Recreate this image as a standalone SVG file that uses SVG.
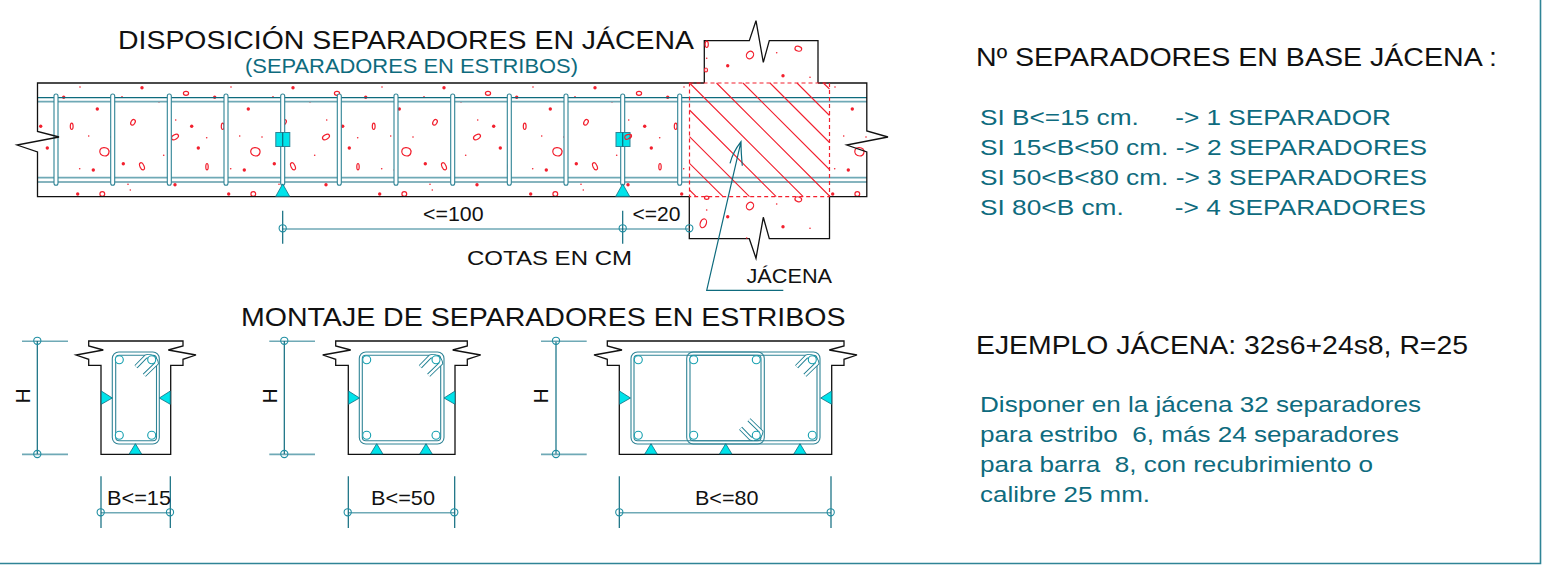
<svg xmlns="http://www.w3.org/2000/svg" xmlns:xlink="http://www.w3.org/1999/xlink" width="1558" height="568" viewBox="0 0 1558 568">
<style>
text{font-family:"Liberation Sans",Arial,sans-serif;white-space:pre}
.k{fill:#111}.t{fill:#0e6b7e}
.s24{font-size:25px}.s20{font-size:21px}.s22{font-size:22px}.s21{font-size:21.3px}
.o{fill:none;stroke:#111;stroke-width:1.3;stroke-linejoin:miter}
.d{fill:none;stroke:#0e6b7e;stroke-width:1.2}
.l{fill:none;stroke:#6fa9b6;stroke-width:1.6}
.st{fill:#fff;stroke:#2f8496;stroke-width:1.1}
.stn{fill:none;stroke:#2f8496;stroke-width:1.1}
.c{fill:none;stroke:#1f8ea2;stroke-width:1.1}
.b{fill:#fff;stroke:#16a0b0;stroke-width:1.1}
.sp{fill:#00e3ea;stroke:#0e6b7e;stroke-width:.8}
.r{fill:none;stroke:#f2202e;stroke-width:1.2}
.rd{fill:#f2202e}
.h{fill:none;stroke:#f2202e;stroke-width:1.1}
.dash{fill:none;stroke:#f2202e;stroke-width:1.2;stroke-dasharray:4 3}
</style>
<defs>
<clipPath id="beamclip"><rect x="37.5" y="83" width="652" height="113.7"/><rect x="829.5" y="83" width="37.5" height="113.7"/></clipPath>
<g id="tile">
<g class="r">
<ellipse cx="186" cy="93.3" rx="2.6" ry="2"/><ellipse cx="133" cy="122.3" rx="2" ry="3" transform="rotate(30 133 122.3)"/>
<ellipse cx="71.7" cy="126.3" rx="1.4" ry="3.2"/><ellipse cx="175" cy="137" rx="3.8" ry="2.2" transform="rotate(-30 175 137)"/>
<path d="M100 150c1-3 6-3 8-1s1 7-3 7-6-3-5-6z"/><ellipse cx="142" cy="166.3" rx="2" ry="3.8" transform="rotate(-25 142 166.3)"/>
<ellipse cx="102.3" cy="194" rx="2.4" ry="2.4"/><ellipse cx="56" cy="166.7" rx="1.2" ry="3.2"/>
</g>
<g class="rd">
<circle cx="63.7" cy="97.3" r="1.7"/><circle cx="142" cy="87.7" r="1.7"/><circle cx="97.3" cy="109" r="1.7"/><circle cx="40.7" cy="126.3" r="1.7"/><circle cx="47.3" cy="148" r="1.7"/><circle cx="123.3" cy="163.7" r="1.7"/><circle cx="93.3" cy="170" r="1.7"/><circle cx="77.7" cy="194" r="1.7"/><circle cx="175" cy="184.7" r="1.7"/>
<circle cx="80" cy="87" r=".8"/><circle cx="122" cy="96.7" r=".8"/><circle cx="159" cy="102" r=".8"/><circle cx="175.7" cy="120" r=".8"/><circle cx="88.7" cy="136" r=".8"/><circle cx="55.7" cy="137.7" r=".8"/><circle cx="163.7" cy="155.3" r=".8"/><circle cx="79.7" cy="168.7" r=".8"/><circle cx="128" cy="184.3" r=".8"/><circle cx="130.3" cy="190" r=".8"/><circle cx="111" cy="137" r=".8"/>
</g>
</g>
<g id="hook">
<path d="M-15.7 7L-6-3A8 8 0 0 1 5 3.6L-7.4 15.6" fill="none" stroke="#1f7f92" stroke-width="4.2"/>
<path d="M-15.7 7L-6-3A8 8 0 0 1 5 3.6L-7.4 15.6" fill="none" stroke="#fff" stroke-width="2.4"/>
</g>
<rect id="stir" x="-2" y="94" width="4" height="91.3" rx="2" class="st"/>
<polygon id="tri" points="0,-10.3 6.2,0 -6.2,0" class="sp"/>
<polygon id="triB" points="0,-12.5 7,0 -7,0" class="sp"/>
<polygon id="triL" points="0,0 11,7 0,13.3" class="sp"/>
<polygon id="triR" points="0,0 -11,7 0,13.3" class="sp"/>
<circle id="bar" r="4" class="b"/>
<circle id="dc" r="3.6" class="c"/>
</defs>

<g id="frame"><path d="M1540.5 0V563.5H0" fill="none" stroke="#2f8496" stroke-width="1.6"/></g>

<g id="beam">
<g clip-path="url(#beamclip)">
<use xlink:href="#tile"/><use xlink:href="#tile" x="151"/><use xlink:href="#tile" x="302"/><use xlink:href="#tile" x="453"/><use xlink:href="#tile" x="604"/><use xlink:href="#tile" x="755"/>
</g>
<path class="d" d="M37.5 97.7H867M37.5 182H867"/>
<path class="l" d="M37.5 101.6H867M37.5 177.6H867"/>
<use xlink:href="#stir" x="56"/><use xlink:href="#stir" x="112.7"/><use xlink:href="#stir" x="169.3"/><use xlink:href="#stir" x="226"/><use xlink:href="#stir" x="282.7"/><use xlink:href="#stir" x="339.3"/><use xlink:href="#stir" x="396"/><use xlink:href="#stir" x="452.7"/><use xlink:href="#stir" x="509.3"/><use xlink:href="#stir" x="566"/><use xlink:href="#stir" x="622.7"/><use xlink:href="#stir" x="679.7"/>
<path class="o" d="M704.3 83H37.5V131.5L59 137 17 145 37.5 152V196.7H689.3M829.5 196.7H866.8V152L846.7 145 888 137 866.8 131V83H818"/>
</g>

<g id="column">
<path class="o" d="M704.3 83V40.7H749.3L756 20.7 763.3 62.3 769.3 40.7H818V83M689.3 196.7V238.7H749.3L756 258.3 763.3 217.3 769.3 238.7H829.5V196.7"/>
<g class="r">
<ellipse cx="750" cy="55" rx="3.4" ry="4" transform="rotate(35 750 55)"/><ellipse cx="798.3" cy="48.7" rx="3.4" ry="2.4" transform="rotate(15 798.3 48.7)"/><ellipse cx="706.7" cy="44.3" rx="1.6" ry="3.2"/><ellipse cx="706" cy="70" rx="1.5" ry="2"/>
<ellipse cx="750" cy="206" rx="3.4" ry="4" transform="rotate(35 750 206)"/><ellipse cx="798.3" cy="199.3" rx="3.4" ry="2.4" transform="rotate(15 798.3 199.3)"/><ellipse cx="706.7" cy="197.8" rx="2.2" ry="1.6"/><ellipse cx="703.3" cy="223.3" rx="3" ry="4.6" transform="rotate(20 703.3 223.3)"/>
</g>
<g class="rd">
<circle cx="727.7" cy="65.7" r="1.7"/><circle cx="783" cy="75.7" r="1.7"/><circle cx="776.7" cy="52.7" r=".8"/><circle cx="810" cy="77.3" r=".8"/><circle cx="706.7" cy="58.3" r=".8"/>
<circle cx="727.7" cy="216.7" r="1.7"/><circle cx="783" cy="226.7" r="1.7"/><circle cx="776.7" cy="204" r=".8"/><circle cx="810" cy="228.3" r=".8"/><circle cx="706.7" cy="210" r=".8"/><circle cx="746.7" cy="238" r=".8"/>
</g>
<rect class="dash" x="689.5" y="83" width="140" height="113.7"/>
<path class="h" d="M689.5 83L803.2 196.7M716.5 83L829.5 196M743 83L829.5 169.5M770 83L829.5 142.5M797 83L829.5 115.5M823.3 83L829.5 89M689.5 110L776.2 196.7M689.5 136.7L749.5 196.7M689.5 163.3L723 196.7M689.5 190L696.2 196.7"/>
</g>

<g id="spacers">
<rect x="275.8" y="132.5" width="14" height="14" fill="#00e3ea" stroke="#2f8496" stroke-width="1"/>
<rect x="616" y="132.5" width="14" height="14" fill="#00e3ea" stroke="#2f8496" stroke-width="1"/>
<path class="d" d="M282.7 132.5V146.5M622.7 132.5V146.5"/>
<path class="r" d="M625 136c2-2 5-2 6-1s-1 3-3 4-4 0-3-3z"/>
<use xlink:href="#triB" x="282.7" y="196.4"/><use xlink:href="#triB" x="622.7" y="196.4"/>
</g>

<g id="section-15">
<path class="o" d="M101 365.3H88.7V359.3L76 355 103.3 350 88.7 346V341H183V346L168.3 350 196 355 183 359.3V365.3H170.7V454.3H101Z"/>
<rect class="stn" x="112.3" y="352" width="47" height="92" rx="6.5"/>
<rect class="stn" x="115.7" y="355.3" width="40.8" height="85.4" rx="3.5"/>
<use xlink:href="#hook" x="151.7" y="359.7"/>
<use xlink:href="#bar" x="119.3" y="359.7"/><use xlink:href="#bar" x="151.7" y="359.7"/><use xlink:href="#bar" x="119.3" y="435.3"/><use xlink:href="#bar" x="151.7" y="435.3"/>
<use xlink:href="#triL" x="101.3" y="391"/><use xlink:href="#triR" x="170.3" y="391"/><use xlink:href="#tri" x="135.4" y="454"/>
</g>

<g id="section-50">
<path class="o" d="M348.3 365.3H335.7V359.3L322.7 355 350.7 350 335.7 346V341H467.3V346L452.7 350 480.7 355 467.3 359.3V365.3H455V454.3H348.3Z"/>
<rect class="stn" x="359.3" y="352" width="84.7" height="92" rx="6.5"/>
<rect class="stn" x="362.3" y="355.3" width="78.4" height="85.4" rx="3.5"/>
<use xlink:href="#hook" x="436" y="359.7"/>
<use xlink:href="#bar" x="366.7" y="359.7"/><use xlink:href="#bar" x="436" y="359.7"/><use xlink:href="#bar" x="366.7" y="435.3"/><use xlink:href="#bar" x="436" y="435.3"/>
<use xlink:href="#triL" x="348.5" y="391"/><use xlink:href="#triR" x="455" y="391"/><use xlink:href="#tri" x="376.7" y="454"/><use xlink:href="#tri" x="426" y="454"/>
</g>

<g id="section-80">
<path class="o" d="M619.3 365.3H607.3V359.3L594 355 622 350 607.3 346V341H844V346L829.3 350 857 355 844 359.3V365.3H831.7V454.3H619.3Z"/>
<rect class="stn" x="631" y="352" width="189" height="92" rx="6.5"/>
<rect class="stn" x="634" y="355.3" width="183" height="85.4" rx="3.5"/>
<rect class="stn" x="686.7" y="352" width="77.6" height="92" rx="6.5"/>
<rect class="stn" x="690" y="355.3" width="71" height="85.4" rx="3.5"/>
<use xlink:href="#hook" x="812.3" y="359.7"/>
<g transform="translate(756.3 435.3) scale(1 -1)"><use xlink:href="#hook"/></g>
<use xlink:href="#bar" x="638.3" y="359.7"/><use xlink:href="#bar" x="693.7" y="359.7"/><use xlink:href="#bar" x="756.3" y="359.7"/><use xlink:href="#bar" x="812.3" y="359.7"/>
<use xlink:href="#bar" x="638.3" y="435.3"/><use xlink:href="#bar" x="693.7" y="435.3"/><use xlink:href="#bar" x="756.3" y="435.3"/><use xlink:href="#bar" x="812.3" y="435.3"/>
<use xlink:href="#triL" x="619.5" y="391"/><use xlink:href="#triR" x="831.7" y="391"/><use xlink:href="#tri" x="651" y="454"/><use xlink:href="#tri" x="725.7" y="454"/><use xlink:href="#tri" x="800" y="454"/>
</g>

<g id="connectors">
<path class="l" d="M282.7 229H689.3"/>
<path class="d" d="M282.7 210.7V243.7M622.7 210.7V243.7"/>
<use xlink:href="#dc" x="282.7" y="228.3"/><use xlink:href="#dc" x="622.7" y="228.3"/><use xlink:href="#dc" x="689.3" y="228.3"/>
<path class="d" d="M783.3 290.3H706.7L741 141.7M730 163.3Q733 152 741 141.7Q741 152 742.3 165.7"/>
<path class="l" d="M22 341.2H68M22 454.4H68M269.3 341.2H315M269.3 454.4H315M541 341.2H586.7M541 454.4H586.7"/>
<path class="d" d="M37.3 341V454M284.3 341V454M556 341V454"/>
<path class="l" d="M556 341V454"/>
<use xlink:href="#dc" x="37.3" y="340.8"/><use xlink:href="#dc" x="37.3" y="454"/><use xlink:href="#dc" x="284.3" y="340.8"/><use xlink:href="#dc" x="284.3" y="454"/><use xlink:href="#dc" x="556" y="340.8"/><use xlink:href="#dc" x="556" y="454"/>
<path class="l" d="M101 512.8H170.3M348.3 512.8H454.7M619.3 512.8H831"/>
<path class="d" d="M101 476.3V528M170.3 476.3V528M348.3 476.3V528M454.7 476.3V528M619.3 476.3V528M831 476.3V528"/>
<use xlink:href="#dc" x="100.7" y="512.3"/><use xlink:href="#dc" x="170" y="512.3"/><use xlink:href="#dc" x="347.7" y="512.3"/><use xlink:href="#dc" x="454.3" y="512.3"/><use xlink:href="#dc" x="619.3" y="512.3"/><use xlink:href="#dc" x="830.7" y="512.3"/>
</g>

<g id="labels">
<text class="k s24" x="118" y="49.3" textLength="576" lengthAdjust="spacingAndGlyphs">DISPOSICIÓN SEPARADORES EN JÁCENA</text>
<text class="t s20" x="245" y="72.7" textLength="333" lengthAdjust="spacingAndGlyphs">(SEPARADORES EN ESTRIBOS)</text>
<text class="k s20" x="423" y="221" textLength="60.5" lengthAdjust="spacingAndGlyphs">&lt;=100</text>
<text class="k s20" x="632.5" y="221" textLength="48" lengthAdjust="spacingAndGlyphs">&lt;=20</text>
<text class="k s20" x="467" y="264.5" textLength="165" lengthAdjust="spacingAndGlyphs">COTAS EN CM</text>
<text class="k s20" x="746.5" y="283" textLength="85.5" lengthAdjust="spacingAndGlyphs">JÁCENA</text>
<text class="k s24" x="241" y="325.5" textLength="604.5" lengthAdjust="spacingAndGlyphs">MONTAJE DE SEPARADORES EN ESTRIBOS</text>
<text class="k s20" x="107" y="505" textLength="64" lengthAdjust="spacingAndGlyphs">B&lt;=15</text>
<text class="k s20" x="371" y="505" textLength="64" lengthAdjust="spacingAndGlyphs">B&lt;=50</text>
<text class="k s20" x="695" y="505" textLength="63.5" lengthAdjust="spacingAndGlyphs">B&lt;=80</text>
<text class="k s20" text-anchor="middle" transform="translate(30 396) rotate(-90)">H</text>
<text class="k s20" text-anchor="middle" transform="translate(276.7 396) rotate(-90)">H</text>
<text class="k s20" text-anchor="middle" transform="translate(548.3 396) rotate(-90)">H</text>
<text class="k s24" x="976" y="66" textLength="521" lengthAdjust="spacingAndGlyphs">Nº SEPARADORES EN BASE JÁCENA :</text>
<text class="t s22" x="980" y="125" textLength="411" lengthAdjust="spacingAndGlyphs">SI B&lt;=15 cm.     -&gt; 1 SEPARADOR</text>
<text class="t s22" x="980" y="155" textLength="447" lengthAdjust="spacingAndGlyphs">SI 15&lt;B&lt;50 cm. -&gt; 2 SEPARADORES</text>
<text class="t s22" x="980" y="185" textLength="447" lengthAdjust="spacingAndGlyphs">SI 50&lt;B&lt;80 cm. -&gt; 3 SEPARADORES</text>
<text class="t s22" x="980" y="215" textLength="446" lengthAdjust="spacingAndGlyphs">SI 80&lt;B cm.       -&gt; 4 SEPARADORES</text>
<text class="k s24" x="976" y="354" textLength="492" lengthAdjust="spacingAndGlyphs">EJEMPLO JÁCENA: 32s6+24s8, R=25</text>
<text class="t s21" x="980" y="412" textLength="441" lengthAdjust="spacingAndGlyphs">Disponer en la jácena 32 separadores</text>
<text class="t s21" x="980" y="442" textLength="419" lengthAdjust="spacingAndGlyphs">para estribo  6, más 24 separadores</text>
<text class="t s21" x="980" y="472" textLength="393" lengthAdjust="spacingAndGlyphs">para barra  8, con recubrimiento o</text>
<text class="t s21" x="980" y="502" textLength="170" lengthAdjust="spacingAndGlyphs">calibre 25 mm.</text>
</g>
</svg>
